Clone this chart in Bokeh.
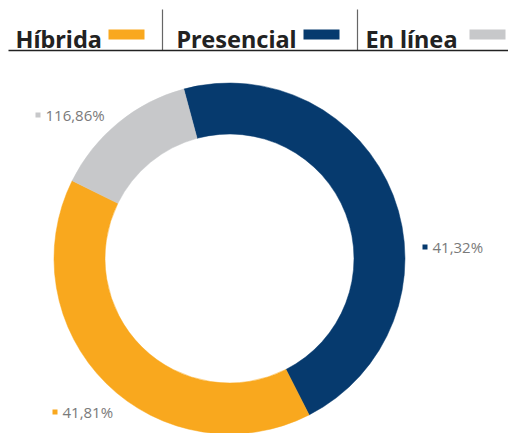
import math
from bokeh.plotting import figure
from bokeh.models import Range1d, ColumnDataSource
from bokeh.core.properties import value
from bokeh.embed import file_html
from bokeh.resources import INLINE

# ---- data ----
categories = ["Presencial", "Híbrida", "En línea"]
shares = [46.7, 39.8, 13.5]            # drawn ring shares
label_texts = ["41,32%", "41,81%", "116,86%"]
colors = ["#063A6E", "#F9A81E", "#C7C8CA"]
legend_order = ["Híbrida", "Presencial", "En línea"]

W, H = 508, 433
p = figure(width=W, height=H, output_backend="svg", toolbar_location=None,
           x_range=Range1d(0, W), y_range=Range1d(0, H), min_border=0,
           outline_line_color=None, background_fill_color="white",
           border_fill_color="white")
p.axis.visible = False
p.grid.visible = False

def Y(py):  # page pixel y -> data y
    return H - py
def X(px):
    return px

cx, cy = X(229), Y(258)
r_out, r_in = 175.5, 124.5
start_deg = -15.1  # clockwise from 12 o'clock

starts, ends = [], []
cum = start_deg
for s in shares:
    a0 = cum
    a1 = cum + s * 3.6
    starts.append(math.radians(90 - a0))
    ends.append(math.radians(90 - a1))
    cum = a1

src = ColumnDataSource(dict(x=[cx]*3, y=[cy]*3, s=starts, e=ends, c=colors))
p.annular_wedge(x="x", y="y", inner_radius=r_in, outer_radius=r_out,
                start_angle="s", end_angle="e", direction="clock",
                fill_color="c", line_color="c", line_width=0.5, source=src)

# value labels
sq_px = [(424.5, 246.5), (54.5, 411.5), (37.5, 114.5)]
p.text(x=[X(a + 7.5) for a, b in sq_px], y=[Y(b) for a, b in sq_px], text=label_texts,
       text_font=value("Open Sans"), text_font_size="15px", text_color="#7a7a7a",
       text_baseline="middle", text_align="left")
p.rect(x=[X(a) for a, b in sq_px], y=[Y(b) for a, b in sq_px], width=5, height=5,
       fill_color=colors, line_color=None)

# header legend
legend_colors = {c: col for c, col in zip(categories, colors)}
hx = [15, 176, 365]
sw = [108, 303, 469]
p.text(x=[X(v) for v in hx], y=[Y(38)]*3, text=legend_order,
       text_font=value("Noto Sans"), text_font_style="bold", text_font_size="23.5px",
       text_color="#222222", text_baseline="alphabetic", text_align="left")
p.quad(left=[X(v) for v in sw], right=[X(v + 36) for v in sw],
       top=[Y(29)]*3, bottom=[Y(39)]*3,
       fill_color=[legend_colors[c] for c in legend_order], line_color=None)
p.segment(x0=[X(162), X(357)], x1=[X(162), X(357)], y0=[Y(9)]*2, y1=[Y(50)]*2,
          line_color="#666666", line_width=1.2)
p.segment(x0=[X(8)], x1=[X(508)], y0=[Y(50)], y1=[Y(50)], line_color="#222222", line_width=1.5)

open("out.html", "w").write(file_html(p, INLINE))
